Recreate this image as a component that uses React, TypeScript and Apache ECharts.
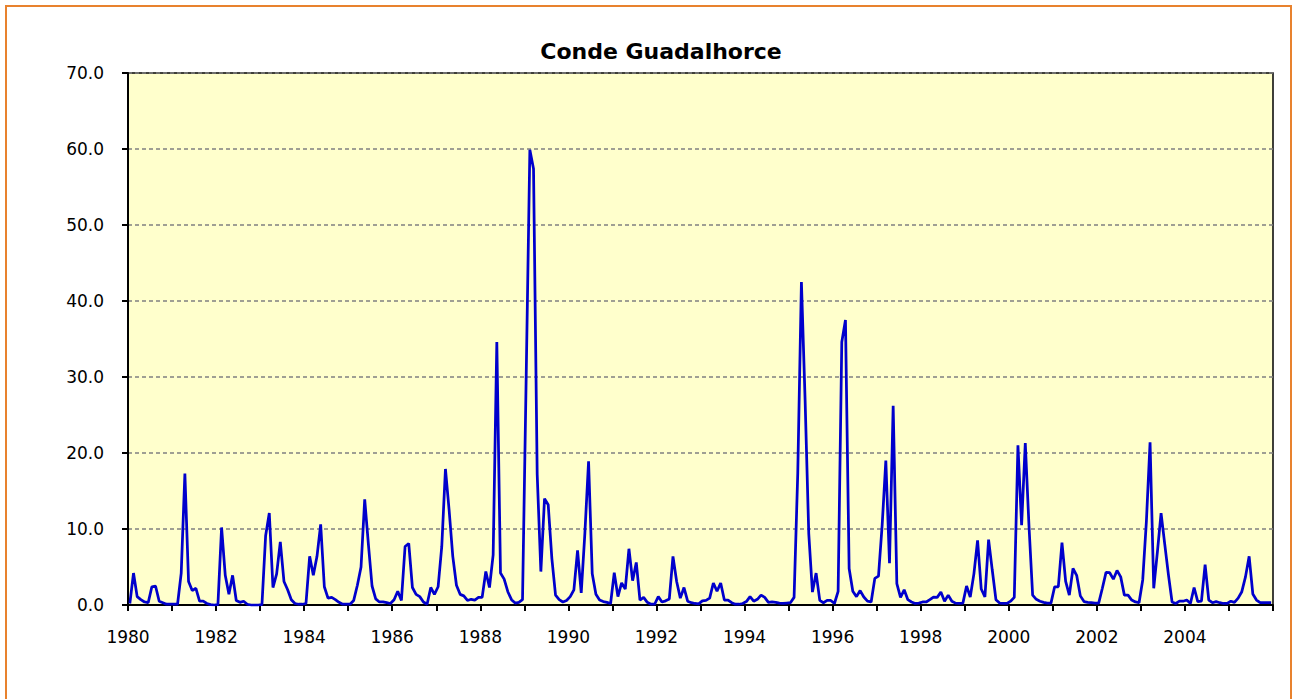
import React, { useEffect, useRef } from "react";
import * as echarts from "echarts";

const chartTitle = "Conde Guadalhorce";
const startYear = 1980;
const endYear = 2006;
const yTicks = [0, 10, 20, 30, 40, 50, 60, 70];

// Monthly values, Jan 1980 .. Dec 2005 (one row per year)
const flow1980s = [
  0.2, 4.2, 1.1, 0.7, 0.4, 0.3, 2.4, 2.5, 0.5, 0.3, 0.1, 0.1,
  0.1, 0.1, 4.2, 17.3, 3.1, 1.9, 2.2, 0.5, 0.5, 0.2, 0.05, 0.0,
  0.05, 10.2, 3.9, 1.4, 3.9, 0.6, 0.35, 0.5, 0.1, 0.0, 0.0, 0.0,
  0.05, 9.1, 12.1, 2.3, 4.1, 8.3, 3.1, 2.0, 0.7, 0.2, 0.1, 0.1,
  0.2, 6.4, 3.9, 6.4, 10.6, 2.4, 0.9, 1.0, 0.7, 0.35, 0.1, 0.1,
  0.1, 0.6, 2.6, 5.0, 13.9, 8.0, 2.5, 0.8, 0.4, 0.4, 0.3, 0.2,
  0.7, 1.8, 0.6, 7.7, 8.1, 2.3, 1.4, 1.1, 0.4, 0.1, 2.3, 1.4,
  2.4, 7.7, 17.9, 12.5, 6.4, 2.6, 1.4, 1.2, 0.6, 0.75, 0.65, 1.0,
  1.0, 4.4, 2.3, 6.6, 34.6, 4.2, 3.4, 1.75, 0.7, 0.25, 0.35, 0.7,
  30.0, 59.9, 57.4, 17.2, 4.4, 14.0, 13.2, 6.1, 1.3, 0.7, 0.4, 0.6,
];
const flow1990s = [
  1.1, 2.0, 7.2, 1.6, 9.5, 18.9, 4.1, 1.4, 0.65, 0.45, 0.35, 0.2,
  4.25, 1.1, 2.9, 2.1, 7.4, 3.2, 5.6, 0.65, 1.0, 0.35, 0.1, 0.1,
  1.1, 0.4, 0.55, 0.8, 6.4, 3.1, 0.9, 2.3, 0.5, 0.3, 0.2, 0.15,
  0.55, 0.6, 0.9, 2.9, 1.8, 2.9, 0.65, 0.65, 0.3, 0.1, 0.1, 0.2,
  0.45, 1.1, 0.5, 0.75, 1.3, 1.0, 0.35, 0.4, 0.35, 0.25, 0.2, 0.25,
  0.3, 1.0, 17.3, 42.5, 27.0, 9.4, 1.7, 4.2, 0.6, 0.3, 0.6, 0.6,
  0.2, 1.8, 34.6, 37.5, 4.8, 1.8, 1.1, 1.9, 1.05, 0.5, 0.4, 3.5,
  3.8, 10.5, 19.0, 5.5, 26.2, 2.8, 1.0, 2.0, 0.7, 0.4, 0.2, 0.25,
  0.4, 0.4, 0.7, 1.05, 1.0, 1.7, 0.5, 1.3, 0.5, 0.25, 0.2, 0.25,
  2.5, 1.05, 4.1, 8.5, 2.1, 1.05, 8.6, 4.6, 0.7, 0.25, 0.2, 0.2,
];
const flow2000s = [
  0.5, 1.0, 21.0, 10.5, 21.3, 10.5, 1.3, 0.75, 0.5, 0.35, 0.25, 0.25,
  2.4, 2.4, 8.2, 3.1, 1.3, 4.8, 3.9, 1.2, 0.45, 0.35, 0.3, 0.25,
  0.25, 2.2, 4.3, 4.25, 3.4, 4.55, 3.7, 1.3, 1.3, 0.65, 0.4, 0.3,
  3.3, 11.0, 21.4, 2.2, 7.0, 12.1, 8.0, 4.0, 0.4, 0.2, 0.5, 0.5,
  0.65, 0.2, 2.3, 0.45, 0.5, 5.3, 0.65, 0.3, 0.45, 0.3, 0.2, 0.2,
  0.5, 0.35, 0.9, 1.75, 3.7, 6.4, 1.45, 0.65, 0.3, 0.3, 0.3, 0.3,
];

const monthlyFlow = [...flow1980s, ...flow1990s, ...flow2000s];

export default function App() {
  const ref = useRef<HTMLDivElement>(null);

  useEffect(() => {
    if (!ref.current) return;
    const chart = echarts.init(ref.current, undefined, { renderer: "svg" });
    const data = monthlyFlow.map((v, i) => [startYear + (i + 0.5) / 12, v]);
    const fontFamily = "'DejaVu Sans', Verdana, sans-serif";

    chart.setOption({
      animation: false,
      backgroundColor: "#ffffff",
      title: {
        text: chartTitle,
        left: 656,
        textAlign: "center",
        top: 35,
        textStyle: {
          fontFamily,
          fontSize: 22,
          fontWeight: "bold",
          color: "#000000",
        },
      },
      grid: {
        left: 128,
        top: 73,
        width: 1145,
        height: 532,
        show: true,
        backgroundColor: "#FFFFCC",
        borderColor: "#000000",
        borderWidth: 1.5,
      },
      xAxis: {
        type: "value",
        min: startYear,
        max: endYear,
        interval: 1,
        axisLine: { show: true, lineStyle: { color: "#000000", width: 2 } },
        axisTick: { show: true, inside: false, length: 6, lineStyle: { color: "#000000", width: 2 } },
        axisLabel: {
          margin: 23,
          fontFamily,
          fontSize: 17,
          color: "#000000",
          formatter: (v: number) => {
            const y = Math.round(v);
            return y % 2 === 0 && y < endYear ? String(y) : "";
          },
        },
        splitLine: { show: false },
      },
      yAxis: {
        type: "value",
        min: yTicks[0],
        max: yTicks[yTicks.length - 1],
        interval: 10,
        axisLine: { show: true, lineStyle: { color: "#000000", width: 2 } },
        axisTick: { show: true, inside: false, length: 6, lineStyle: { color: "#000000", width: 2 } },
        axisLabel: {
          margin: 24,
          fontFamily,
          fontSize: 17,
          color: "#000000",
          formatter: (v: number) => v.toFixed(1),
        },
        splitLine: {
          show: true,
          lineStyle: { color: "#808080", width: 1.5, type: [4, 3] },
        },
      },
      series: [
        {
          type: "line",
          data,
          showSymbol: false,
          symbol: "none",
          lineStyle: { color: "#0000CC", width: 2.75 },
        },
      ],
      graphic: [
        {
          type: "rect",
          shape: { x: 6, y: 6, width: 1285, height: 720 },
          style: { fill: "none", stroke: "#E8822E", lineWidth: 2 },
          silent: true,
        },
      ],
    });

    return () => chart.dispose();
  }, []);

  return (
    <div
      ref={ref}
      style={{ position: "fixed", left: 0, top: 0, width: 1298, height: 699 }}
    />
  );
}
